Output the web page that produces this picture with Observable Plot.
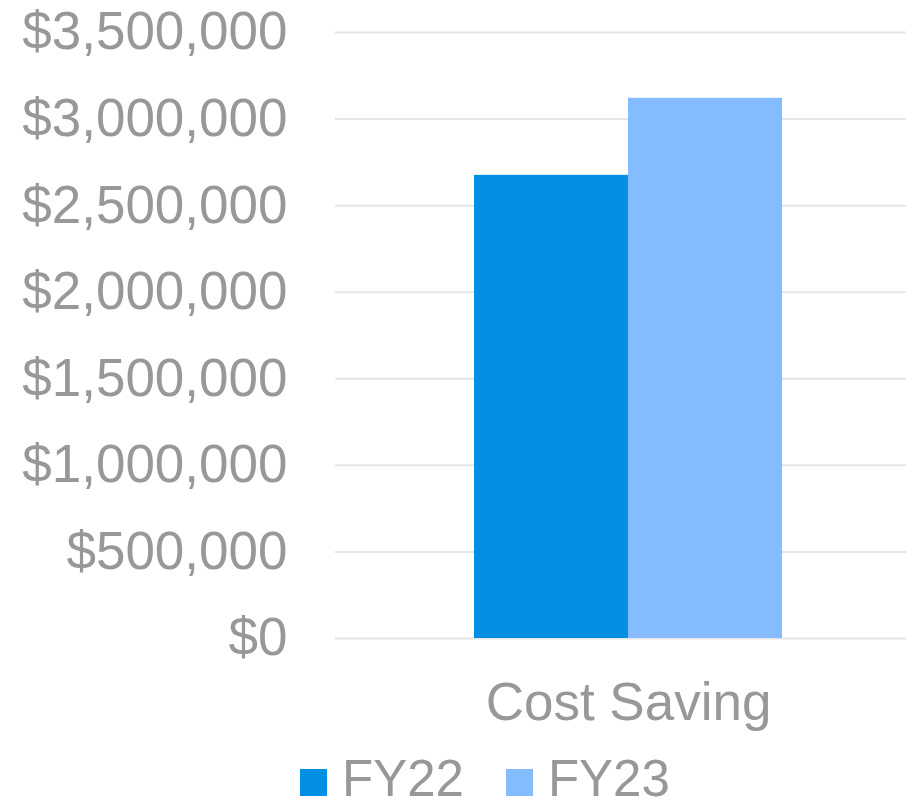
<!DOCTYPE html>
<html>
<head>
<meta charset="utf-8">
<script src="https://cdn.jsdelivr.net/npm/d3@7"></script>
<script src="https://cdn.jsdelivr.net/npm/@observablehq/plot@0.6"></script>
<style>
  html, body { margin: 0; padding: 0; background: #fff; overflow: hidden; }
  body { width: 906px; height: 806px; font-family: "Liberation Sans", Arial, sans-serif; }
  #chart svg { display: block; overflow: hidden; }
  #legend { display: flex; align-items: flex-end; padding-left: 300px; margin-top: 9px; height: 50px; line-height: 50px; font-size: 51px; color: #989898; }
  #legend .item { display: flex; align-items: baseline; }
  #legend .sw { display: inline-block; width: 27px; height: 27px; margin-right: 15px; }
</style>
</head>
<body>
<div id="chart"></div>
<div id="legend"></div>
<script>
const categories = ["Cost Saving"];
const series = ["FY22", "FY23"];
const values = [2675000, 3120000];
const colors = ["#038FE3", "#85BBFF"];
const yTicks = [0, 500000, 1000000, 1500000, 2000000, 2500000, 3000000, 3500000];

const rows = series.map((s, i) => ({category: categories[0], series: s, value: values[i]}));

const chart = Plot.plot({
  width: 906,
  height: 745,
  marginLeft: 335,
  marginRight: -15,
  marginTop: 32,
  marginBottom: 107,
  style: {fontFamily: "'Liberation Sans', Arial, sans-serif", fontSize: "53px", color: "#989898", background: "#fff"},
  fx: {domain: categories, padding: 0, label: null},
  x: {domain: series, paddingInner: 0, paddingOuter: 0.9, axis: null},
  y: {domain: [0, 3500000], label: null},
  color: {domain: series, range: colors},
  marks: [
    Plot.gridY(yTicks, {stroke: "#e6e6e6", strokeOpacity: 1, strokeWidth: 2}),
    Plot.barY(rows, {fx: "category", x: "series", y: "value", fill: "series"}),
    Plot.axisY(yTicks, {tickSize: 0, tickPadding: 48, tickFormat: d3.format("$,"), label: null, fill: "#989898"}),
    Plot.axisFx({anchor: "bottom", tickSize: 0, tickPadding: 44, label: null, fill: "#989898"})
  ]
});
document.getElementById("chart").appendChild(chart);

const legend = document.getElementById("legend");
series.forEach((s, i) => {
  const item = document.createElement("div");
  item.className = "item";
  item.style.marginRight = i === 0 ? "42px" : "0";
  const sw = document.createElement("span");
  sw.className = "sw";
  sw.style.background = colors[i];
  const t = document.createElement("span");
  t.textContent = s;
  item.appendChild(sw);
  item.appendChild(t);
  legend.appendChild(item);
});
</script>
</body>
</html>
